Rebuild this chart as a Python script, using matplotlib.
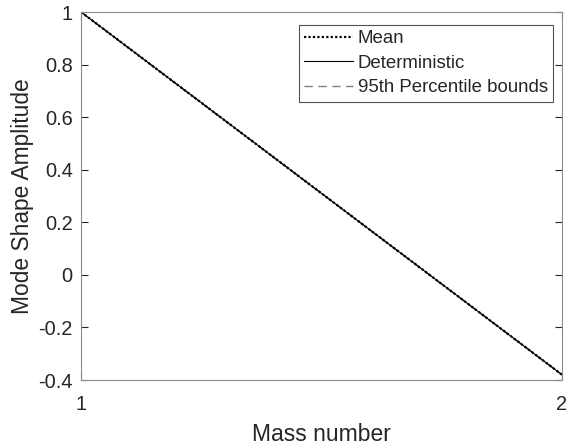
import matplotlib
matplotlib.use("Agg")
import matplotlib.pyplot as plt
from matplotlib.ticker import FixedLocator, FuncFormatter

plt.rcParams['font.family'] = ['Liberation Sans', 'DejaVu Sans']
plt.rcParams['axes.unicode_minus'] = False

# Mode shape of a two-mass system
mass_number = [1, 2]
mean_shape = [1.0, -0.38]
deterministic_shape = [1.0, -0.38]
lower_bound = [1.0, -0.38]
upper_bound = [1.0, -0.38]

x_ticks = [1, 2]
y_ticks = [-0.4, -0.2, 0, 0.2, 0.4, 0.6, 0.8, 1]

fig = plt.figure(figsize=(5.71, 4.48), dpi=100)
ax = fig.add_axes([81 / 571, 1 - 380 / 448, 481 / 571, 368 / 448])

ax.plot(mass_number, lower_bound, color='#7f7f7f', ls=(0, (6, 4)), lw=1.0, label='95th Percentile bounds')
ax.plot(mass_number, upper_bound, color='#7f7f7f', ls=(0, (6, 4)), lw=1.0)
ax.plot(mass_number, deterministic_shape, color='black', ls='-', lw=0.8, label='Deterministic')
ax.plot(mass_number, mean_shape, color='black', ls=(0, (1, 1)), lw=1.6, label='Mean')

ax.set_xlim(1, 2)
ax.set_ylim(-0.4, 1)
ax.xaxis.set_major_locator(FixedLocator(x_ticks))
ax.yaxis.set_major_locator(FixedLocator(y_ticks))
ax.yaxis.set_major_formatter(FuncFormatter(lambda v, p: f"{v:g}"))

for s in ax.spines.values():
    s.set_color('#8c8c8c')
    s.set_linewidth(0.8)
ax.tick_params(direction='in', length=5, width=0.8, color='#262626',
               labelsize=14.4, labelcolor='#262626',
               top=True, right=True)
ax.tick_params(axis='y', pad=6)
ax.tick_params(axis='x', pad=11)

ax.set_xlabel('Mass number', fontsize=16.5, color='#262626', labelpad=6)
ax.set_ylabel('Mode Shape Amplitude', fontsize=16.4, color='#262626', labelpad=3)

handles, labels = ax.get_legend_handles_labels()
order = [2, 1, 0]
leg = ax.legend([handles[i] for i in order], [labels[i] for i in order],
                loc='upper right', bbox_to_anchor=(0.982, 0.966),
                fontsize=13.4, frameon=True, fancybox=False,
                handlelength=2.6, handletextpad=0.27, borderpad=0.3,
                labelspacing=0.4, borderaxespad=0.0)
leg.get_frame().set_edgecolor('#262626')
leg.get_frame().set_linewidth(0.8)
for t in leg.get_texts():
    t.set_color('#262626')

fig.savefig('out.png', dpi=100)
